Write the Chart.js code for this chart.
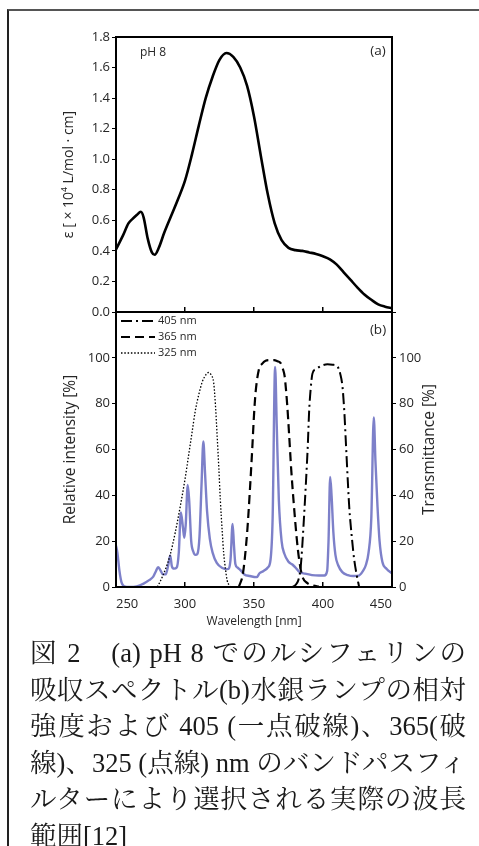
<!DOCTYPE html>
<html>
<head>
<meta charset="utf-8">
<script src="https://cdn.jsdelivr.net/npm/chart.js@4/dist/chart.umd.min.js"></script>
<style>
  html, body { margin: 0; padding: 0; background: #fff; overflow: hidden; }
  body { width: 479px; height: 846px; position: relative; }
  .frame { position: absolute; left: 7px; top: 9px; width: 520px; height: 900px;
           border-left: 2px solid #222; border-top: 2px solid #555; }
  #wrapA { position: absolute; left: 0; top: 0; width: 479px; height: 330px; }
  #wrapB { position: absolute; left: 0; top: 300px; width: 479px; height: 340px; }
  .caption { position: absolute; left: 30px; top: 635px; width: 436px;
             font-family: "Liberation Serif", "Noto Serif CJK JP", "Noto Sans CJK JP", serif;
             font-size: 26.5px; line-height: 36.5px; color: #1a1a1a; }
  .caption div { text-align: justify; text-align-last: justify; white-space: nowrap; }
  .caption div.last { text-align-last: left; }
</style>
</head>
<body>
<div class="frame"></div>
<div id="wrapA"><canvas id="chartA"></canvas></div>
<div id="wrapB"><canvas id="chartB"></canvas></div>
<div class="caption">
  <div>図 2　(a) pH 8 でのルシフェリンの</div>
  <div>吸収スペクトル(b)水銀ランプの相対</div>
  <div>強度および 405 (一点破線)、365(破</div>
  <div>線)、325 (点線) nm のバンドパスフィ</div>
  <div>ルターにより選択される実際の波長</div>
  <div class="last">範囲[12]</div>
</div>
<script>
// (a) luciferin absorption, pH 8
const absWavelength = [250, 255, 259, 262, 265, 268, 270, 273, 276, 278, 281, 285, 290, 295, 300, 305, 310, 315, 320, 325, 330, 335, 340, 345, 350, 355, 360, 365, 370, 375, 380, 385, 390, 395, 400, 405, 410, 415, 420, 425, 430, 435, 440, 445, 450];
const absEpsilon = [0.41, 0.50, 0.58, 0.61, 0.635, 0.656, 0.62, 0.48, 0.39, 0.375, 0.42, 0.52, 0.63, 0.74, 0.86, 1.03, 1.22, 1.40, 1.54, 1.65, 1.695, 1.67, 1.60, 1.48, 1.28, 1.02, 0.77, 0.58, 0.47, 0.42, 0.405, 0.40, 0.39, 0.38, 0.365, 0.345, 0.31, 0.26, 0.21, 0.16, 0.115, 0.08, 0.05, 0.035, 0.025];

// (b) mercury lamp relative intensity
const lampWavelength = [250, 251, 252.5, 254, 256, 260, 265, 270, 274, 277, 279, 280.5, 282, 284, 286, 288, 289.3, 290.5, 292, 294, 295.5, 297, 298.5, 299.5, 300.5, 302, 303, 304.5, 306, 307.5, 309, 310.5, 312, 313.3, 314.5, 316, 318, 320, 323, 327, 331, 333, 334.5, 335.5, 336.5, 338, 340, 343, 347, 352, 354, 357, 360, 362, 363.5, 365.3, 366.5, 368, 370, 372, 375, 378, 380, 383, 387, 392, 397, 401, 403, 404, 405.2, 406.2, 407.5, 409, 411, 414, 418, 422, 426, 429, 431, 433, 435, 436.8, 438, 439.5, 441, 443, 446, 450];
const lampIntensity = [18, 15, 7, 2, 0.3, 0, 0.3, 1.5, 3, 4.5, 7, 8.6, 7.5, 5.5, 5.5, 10, 13.8, 9, 8, 8.5, 15, 32.5, 26, 21.5, 27, 44.5, 38, 20, 15.5, 14, 14.5, 22, 45, 63.5, 50, 33, 21, 15, 10.5, 8.3, 7.8, 12, 27.5, 18, 10, 8.5, 7.5, 5.5, 4.8, 4.3, 6, 7, 8.5, 12, 30, 96, 70, 38, 20, 14.5, 11, 9.7, 8.5, 6.5, 5.8, 5.2, 5, 5, 7, 20, 48, 40, 24, 14, 9.5, 6.5, 5.2, 4.8, 5, 7, 9.5, 15, 30, 74, 55, 35, 20, 11, 8, 6];

// band-pass filter transmittance
const f405Wavelength = [378, 380, 382, 383.5, 384.3, 386, 387.5, 389, 389.9, 391, 392.3, 394.5, 397.2, 400, 403.2, 407, 410.5, 412.5, 414.1, 415.5, 416.5, 418, 419, 421, 422.6, 424.5, 426.2];
const f405Trans = [0, 0.8, 2.8, 7, 12, 28, 44, 62, 76, 86, 93, 95, 96, 96.8, 97.2, 97, 96.2, 93, 87.5, 76, 64, 46, 35, 21, 12, 5, 0];
const f365Wavelength = [339, 342, 345, 347, 348.7, 350, 351.1, 353.5, 356, 358.4, 362, 364.5, 367, 369.3, 371, 372.2, 374, 375.4, 377, 379, 381, 382.7, 385, 388.7, 393, 397];
const f365Trans = [0, 6, 23.5, 42, 60, 75, 84.6, 94.8, 97.5, 98.7, 99, 99, 98.5, 97.7, 95, 92, 80, 67, 51, 35, 21, 12, 4.7, 1.7, 0.6, 0.2];
const f325Wavelength = [280, 284, 289, 293, 296.5, 300, 302.5, 305, 307.5, 310, 312.5, 315, 317, 319, 320.8, 322, 323.2, 324.5, 325.6, 327, 328, 329.5, 330.5, 332, 333];
const f325Trans = [0, 5, 13.5, 24, 35, 47, 57, 67, 77, 84, 89.5, 92.5, 93.6, 92.5, 89, 80, 67, 52, 38, 24, 15, 7, 3, 0.8, 0];

const wlTicks = [250, 300, 350, 400, 450];

const toPoints = (xs, ys) => xs.map((x, i) => ({ x: x, y: ys[i] }));

const sans = "'Open Sans', sans-serif";
const tickFont = { family: sans, size: 13 };
const inkColor = '#262626';

// black box round each plot area
const frame = {
  id: 'frame',
  afterDraw(chart) {
    const a = chart.chartArea, ctx = chart.ctx;
    ctx.save();
    ctx.strokeStyle = '#000';
    ctx.lineWidth = 2;
    ctx.strokeRect(a.left, a.top, a.right - a.left, a.bottom - a.top);
    ctx.restore();
  }
};

// panel labels placed relative to the plot area
const panelText = {
  id: 'panelText',
  afterDraw(chart, args, opts) {
    const a = chart.chartArea, ctx = chart.ctx;
    (opts.items || []).forEach(t => {
      ctx.save();
      ctx.font = t.font;
      ctx.fillStyle = inkColor;
      ctx.textAlign = 'center';
      ctx.textBaseline = 'middle';
      const x = t.fromRight ? a.right + t.dx : a.left + t.dx;
      const y = t.midY ? (a.top + a.bottom) / 2 : a.top + t.dy;
      ctx.translate(x, y);
      if (t.rotate) ctx.rotate(-Math.PI / 2);
      ctx.fillText(t.text, 0, 0);
      ctx.restore();
    });
  }
};

// legend with the datasets' own dash patterns, inside the top-left corner
const lineLegend = {
  id: 'lineLegend',
  afterDraw(chart, args, opts) {
    const a = chart.chartArea, ctx = chart.ctx;
    chart.data.datasets.slice(0, opts.count).forEach((ds, i) => {
      const y = a.top + opts.top + i * opts.step;
      ctx.save();
      ctx.strokeStyle = ds.borderColor;
      ctx.lineWidth = ds.borderWidth;
      ctx.setLineDash(ds.borderDash || []);
      ctx.beginPath();
      ctx.moveTo(a.left + opts.left, y);
      ctx.lineTo(a.left + opts.left + opts.width, y);
      ctx.stroke();
      ctx.setLineDash([]);
      ctx.font = opts.font;
      ctx.fillStyle = inkColor;
      ctx.textBaseline = 'middle';
      ctx.fillText(ds.label, a.left + opts.left + opts.width + 3, y);
      ctx.restore();
    });
  }
};

const wlAxis = (showLabels) => ({
  type: 'linear',
  min: 250,
  max: 450,
  afterBuildTicks: s => { s.ticks = wlTicks.map(v => ({ value: v })); },
  ticks: { display: showLabels, align: 'inner', padding: 14, color: inkColor, font: tickFont },
  grid: { drawOnChartArea: false, tickLength: -5, color: '#000', lineWidth: 1.5 },
  border: { display: false }
});

new Chart(document.getElementById('chartA'), {
  type: 'line',
  data: {
    datasets: [{
      data: toPoints(absWavelength, absEpsilon),
      borderColor: '#000',
      borderWidth: 2.6,
      pointRadius: 0,
      cubicInterpolationMode: 'monotone'
    }]
  },
  options: {
    responsive: true,
    maintainAspectRatio: false,
    animation: false,
    layout: { padding: { top: 37, right: 87, bottom: 0, left: 0 } },
    plugins: {
      legend: { display: false },
      tooltip: { enabled: false },
      panelText: {
        items: [
          { text: 'pH 8', font: "12px " + sans, dx: 37, dy: 16 },
          { text: '(a)', font: "13.5px " + sans, fromRight: true, dx: -14, dy: 14 }
        ]
      }
    },
    scales: {
      x: Object.assign(wlAxis(false), { afterFit: s => { s.height = 18; } }),
      y: {
        min: 0,
        max: 1.8,
        ticks: { stepSize: 0.2, padding: 2, color: inkColor, font: tickFont, callback: v => v.toFixed(1) },
        grid: { drawOnChartArea: false, tickLength: 4, color: '#000', lineWidth: 1 },
        border: { display: false },
        title: { display: true, text: 'ε [ × 10⁴ L/mol · cm]', color: inkColor, font: { family: sans, size: 14 }, padding: { top: 61 } },
        afterFit: s => { s.width = 116; }
      }
    }
  },
  plugins: [frame, panelText]
});

new Chart(document.getElementById('chartB'), {
  type: 'line',
  data: {
    datasets: [
      { label: '405 nm', data: toPoints(f405Wavelength, f405Trans), yAxisID: 'y2', borderColor: '#000', borderWidth: 2, borderDash: [11, 4, 2, 4], pointRadius: 0, cubicInterpolationMode: 'monotone' },
      { label: '365 nm', data: toPoints(f365Wavelength, f365Trans), yAxisID: 'y2', borderColor: '#000', borderWidth: 2.2, borderDash: [9, 5], pointRadius: 0, cubicInterpolationMode: 'monotone' },
      { label: '325 nm', data: toPoints(f325Wavelength, f325Trans), yAxisID: 'y2', borderColor: '#000', borderWidth: 1.3, borderDash: [1.5, 1.8], pointRadius: 0, cubicInterpolationMode: 'monotone' },
      { label: 'Hg lamp', data: toPoints(lampWavelength, lampIntensity), yAxisID: 'y', borderColor: 'rgba(88, 92, 186, 0.78)', borderWidth: 2.4, pointRadius: 0, cubicInterpolationMode: 'monotone' }
    ]
  },
  options: {
    responsive: true,
    maintainAspectRatio: false,
    animation: false,
    layout: { padding: { top: 12, right: 27, bottom: 8, left: 0 } },
    plugins: {
      legend: { display: false },
      tooltip: { enabled: false },
      lineLegend: { count: 3, left: 5, width: 34, top: 9, step: 16, font: "11px " + sans },
      panelText: {
        items: [
          { text: '(b)', font: "13.5px " + sans, fromRight: true, dx: -14, dy: 18 },
          { text: 'Transmittance [%]', font: "15.5px " + sans, fromRight: true, dx: 38, midY: true, rotate: true }
        ]
      }
    },
    scales: {
      x: Object.assign(wlAxis(true), {
        title: { display: true, text: 'Wavelength [nm]', color: inkColor, font: { family: sans, size: 12 }, padding: { bottom: 3 } },
        afterFit: s => { s.height = 45; }
      }),
      y: {
        position: 'left',
        min: 0,
        max: 120,
        ticks: { stepSize: 20, padding: 2, color: inkColor, font: tickFont, callback: v => (v > 100 ? '' : v) },
        grid: { drawOnChartArea: false, tickLength: 4, color: '#000', lineWidth: 1 },
        border: { display: false },
        title: { display: true, text: 'Relative intensity [%]', color: inkColor, font: { family: sans, size: 15.5 }, padding: { top: 61 } },
        afterFit: s => { s.width = 116; }
      },
      y2: {
        position: 'right',
        min: 0,
        max: 120,
        ticks: { stepSize: 20, padding: 3, color: inkColor, font: tickFont, callback: v => (v > 100 ? '' : v) },
        grid: { drawOnChartArea: false, tickLength: 4, color: '#000', lineWidth: 1 },
        border: { display: false },
        afterFit: s => { s.width = 60; }
      }
    }
  },
  plugins: [frame, panelText, lineLegend]
});
</script>
</body>
</html>
